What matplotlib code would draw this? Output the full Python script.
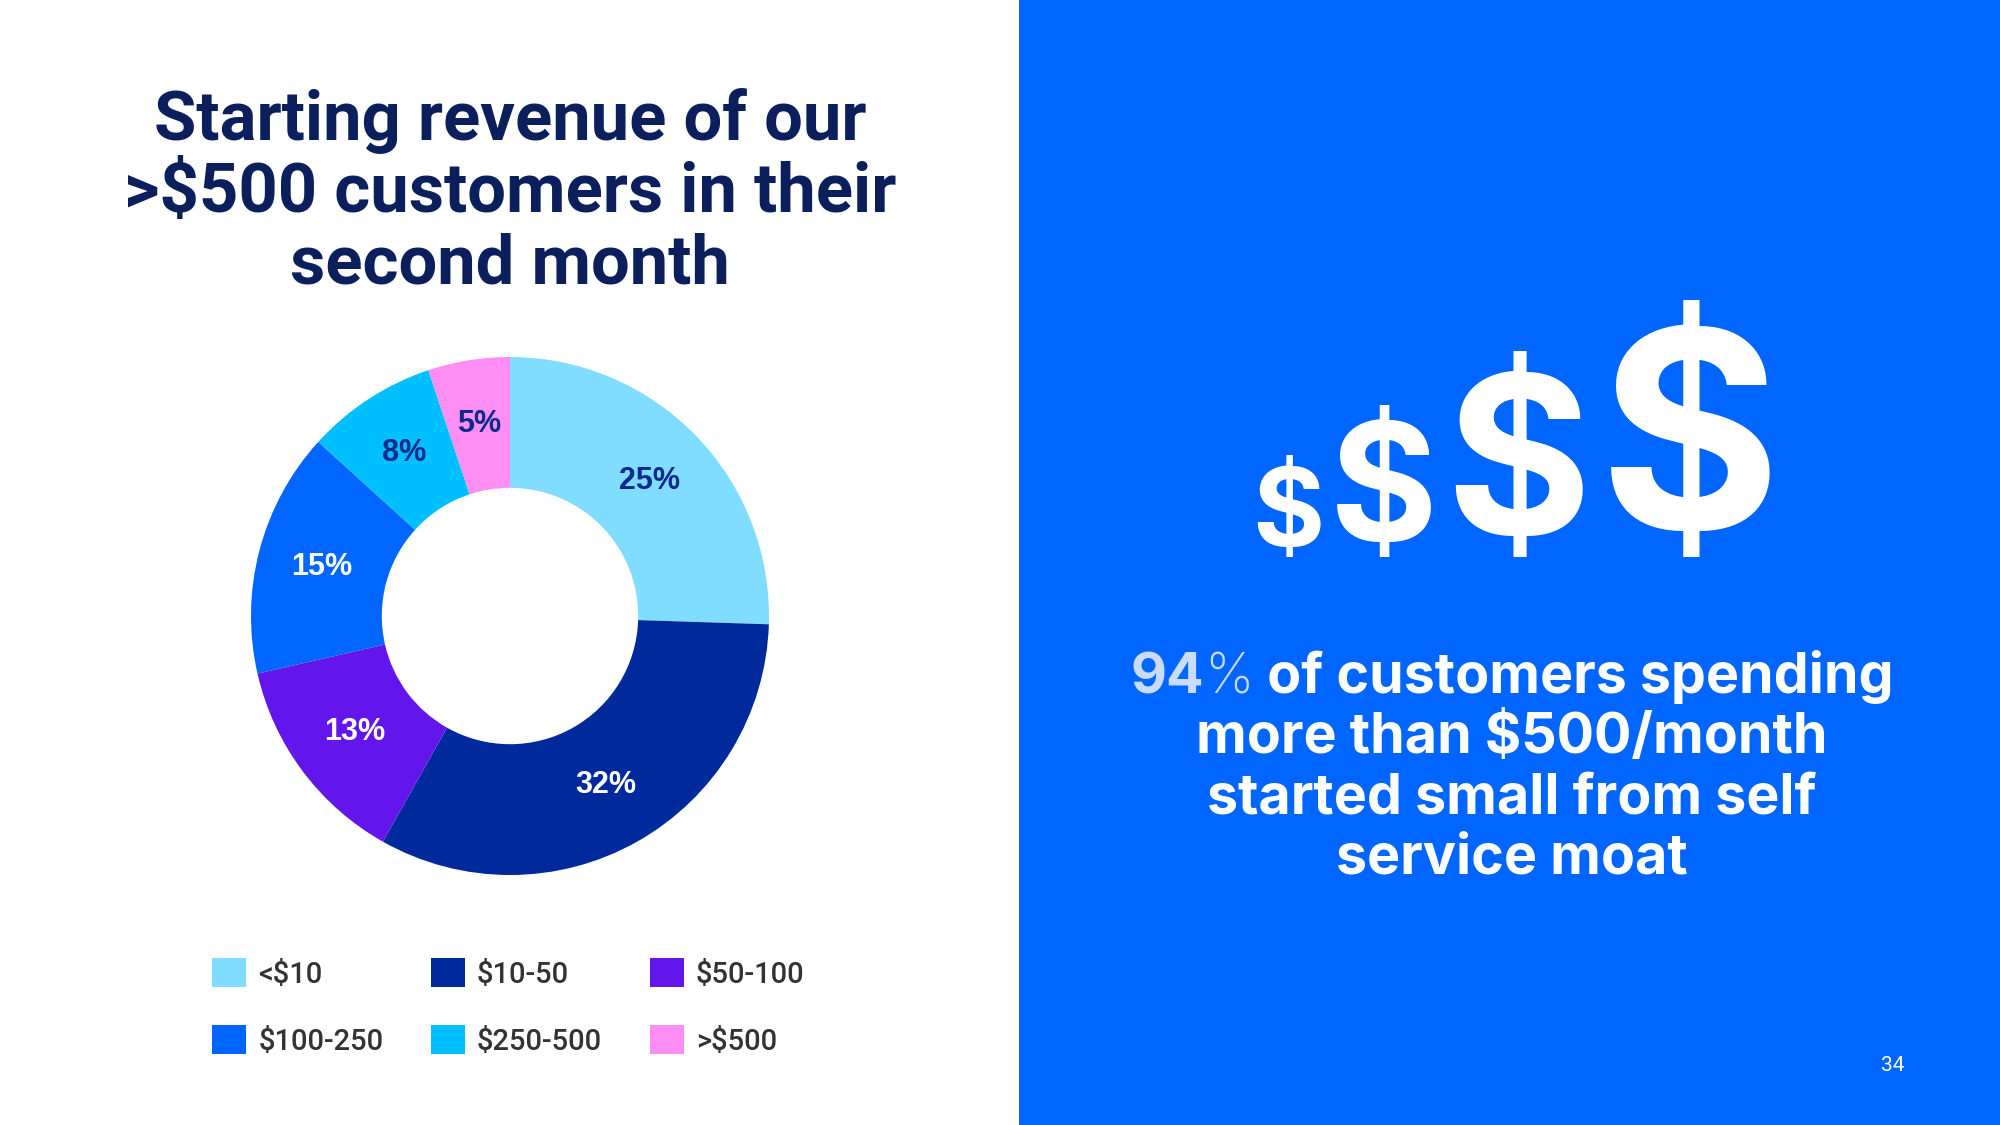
import matplotlib
matplotlib.use('Agg')
import matplotlib.pyplot as plt
from matplotlib.patches import Rectangle
from matplotlib.textpath import TextPath
from matplotlib.font_manager import FontProperties

W, H = 2000, 1125
DPI = 100

# data
categories = ['<$10', '$10-50', '$50-100', '$100-250', '$250-500', '>$500']
shares = [25, 32, 13, 15, 8, 5]
slice_colors = ['#80DDFF', '#002A9C', '#6316EC', '#0066FF', '#00BFFF', '#FF8EF4']
label_colors = ['#0A2A8E', 'white', 'white', 'white', '#0A2A8E', '#0A2A8E']

title_lines = ['Starting revenue of our', '>$500 customers in their', 'second month']
body_first = ['94', '%', ' of customers spending']
body_rest = ['more than $500/month', 'started small from self', 'service moat']
page_no = '34'

NAVY = '#0B1F5C'
BLUE = '#0066FF'
LIGHT = '#C9DCFF'
BODY_FONT = 'Inter'


def fx(x):
    return x / W


def fy(y):
    return 1 - y / H


fig = plt.figure(figsize=(W / DPI, H / DPI), dpi=DPI)
fig.patch.set_facecolor('white')

# right blue panel
fig.add_artist(Rectangle((fx(1019), 0), 1 - fx(1019), 1, transform=fig.transFigure,
                         facecolor=BLUE, edgecolor='none', zorder=0))

# title
for line, base in zip(title_lines, [140, 212, 284]):
    fig.text(fx(510), fy(base), line, ha='center', va='baseline', fontsize=49.5,
             fontweight='bold', color=NAVY, family='Roboto')

# donut
cx, cy, R = 510, 616, 259
ax = fig.add_axes([fx(cx - R), fy(cy + R), 2 * R / W, 2 * R / H])
total = sum(shares)
wedges, _, autotexts = ax.pie(
    shares, colors=slice_colors, startangle=90, counterclock=False, radius=1,
    wedgeprops=dict(width=0.505, linewidth=0),
    autopct=lambda p: '{:.0f}%'.format(p * total / 100), pctdistance=0.75,
    textprops=dict(fontsize=22, fontweight='bold', family='Liberation Sans'))
for t, c in zip(autotexts, label_colors):
    t.set_color(c)
ax.set_xlim(-1, 1)
ax.set_ylim(-1, 1)
ax.set_aspect('equal')
ax.axis('off')

# legend, row-wise order
order = [0, 3, 1, 4, 2, 5]
fig.legend([wedges[i] for i in order], [categories[i] for i in order], ncol=3,
           loc='upper left', bbox_to_anchor=(fx(212), fy(958)), frameon=False,
           borderpad=0, borderaxespad=0, handlelength=1.17, handleheight=1.17,
           handletextpad=0.42, columnspacing=1.62, labelspacing=1.25,
           prop=dict(family='Roboto', weight='medium', size=21), labelcolor='#333333')

# growing dollar signs
fp = FontProperties(family=BODY_FONT, weight='bold')
ext = TextPath((0, 0), '$', size=1, prop=fp).get_extents()
for x, h in zip([1288, 1384, 1518, 1690], [102, 152, 206, 257]):
    size_px = h / ext.height
    base = 557 + ext.y0 * size_px
    fig.text(fx(x), fy(base), '$', ha='center', va='baseline',
             fontsize=size_px * 72 / DPI, color='white',
             family=BODY_FONT, fontweight='bold')

# body text, first line in three colours/weights
BODY_PT = 40
t1 = fig.text(fx(1125), fy(693), body_first[0], ha='left', va='baseline',
              fontsize=BODY_PT, fontweight='bold', color=LIGHT, family=BODY_FONT)
t2 = fig.text(0, 0, body_first[1], ha='left', va='baseline', fontsize=BODY_PT,
              fontweight='light', color=LIGHT, family=BODY_FONT)
t3 = fig.text(0, 0, body_first[2], ha='left', va='baseline', fontsize=BODY_PT,
              fontweight='bold', color='white', family=BODY_FONT)
fig.canvas.draw()
r = fig.canvas.get_renderer()
w1 = t1.get_window_extent(r).width
w2 = t2.get_window_extent(r).width
w3 = t3.get_window_extent(r).width
gap = 0
start = 1512 - (w1 + w2 + w3 + gap) / 2
t1.set_position((fx(start), fy(693)))
t2.set_position((fx(start + w1 + gap), fy(693)))
t3.set_position((fx(start + w1 + gap + w2), fy(693)))

for line, base in zip(body_rest, [753, 813, 873]):
    fig.text(fx(1512), fy(base), line, ha='center', va='baseline', fontsize=BODY_PT,
             fontweight='bold', color='white', family=BODY_FONT)

fig.text(fx(1893), fy(1071), page_no, ha='center', va='baseline', fontsize=15,
         color='white', family='Roboto')

fig.savefig('out.png', dpi=DPI, facecolor='white')
